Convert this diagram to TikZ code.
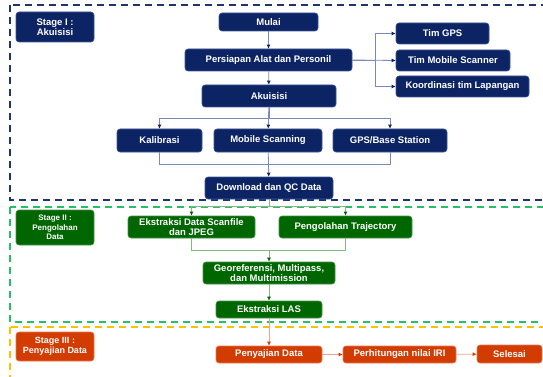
\documentclass[tikz,border=0pt]{standalone}
\usepackage{fontspec}
\setmainfont{Liberation Sans}
\usepackage{tikz}
\usetikzlibrary{arrows.meta,positioning}
\definecolor{stagenavy}{RGB}{12, 36, 100}
\definecolor{navyedge}{RGB}{60, 86, 150}
\definecolor{navyline}{RGB}{120, 138, 185}
\definecolor{navydash}{RGB}{30, 52, 110}
\definecolor{stagegreen}{RGB}{0, 102, 0}
\definecolor{greenedge}{RGB}{70, 150, 70}
\definecolor{greenline}{RGB}{130, 185, 130}
\definecolor{greendash}{RGB}{40, 190, 105}
\definecolor{stageorange}{RGB}{210, 60, 0}
\definecolor{orangeedge}{RGB}{235, 120, 80}
\definecolor{orangeline}{RGB}{240, 160, 140}
\definecolor{orangedash}{RGB}{255, 192, 0}

\begin{document}
\begin{tikzpicture}[x=1pt, y=-1pt,
  box/.style={rectangle, rounded corners=3pt, line width=0.6pt, text=white, font=\fontsize{9.5}{10.5}\selectfont\bfseries, align=center, inner sep=0pt},
  bluebox/.style={box, fill=stagenavy, draw=navyedge},
  greenbox/.style={box, fill=stagegreen, draw=greenedge},
  orangebox/.style={box, fill=stageorange, draw=orangeedge},
  blueflow/.style={draw=navyline, line width=0.8pt, -{Latex[length=4pt, width=4pt, color=stagenavy]}},
  blueline/.style={draw=navyline, line width=0.8pt},
  greenflow/.style={draw=greenline, line width=0.8pt, -{Latex[length=4pt, width=4pt, color=stagegreen]}},
  greenline/.style={draw=greenline, line width=0.8pt},
  orangeflow/.style={draw=orangeline, line width=0.8pt, -{Latex[length=4pt, width=4pt, color=stageorange]}},
  stagedash/.style={line width=2pt, dash pattern=on 7pt off 5pt}
]

\useasboundingbox[fill=white] (0,0) rectangle (543,377);

% Stage frames
\draw[stagedash, draw=navydash] (10,5) rectangle (570,200);
\draw[stagedash, draw=greendash] (10,207) rectangle (570,322);
\draw[stagedash, draw=orangedash] (10,327) rectangle (570,395);

% Stage I
\node[bluebox, minimum width=78pt, minimum height=30pt] (stage1) at (55,27) {Stage I :\\Akuisisi};
\node[bluebox, minimum width=99pt, minimum height=18pt] (mulai) at (268.5,22) {Mulai};
\node[bluebox, minimum width=167pt, minimum height=22pt] (persiapan) at (268.5,60) {Persiapan Alat dan Personil};
\node[bluebox, minimum width=134pt, minimum height=22pt] (akuisisi) at (269,96) {Akuisisi};
\node[bluebox, minimum width=93pt, minimum height=21pt] (timgps) at (442.5,33.5) {Tim GPS};
\node[bluebox, minimum width=114pt, minimum height=21pt] (timscanner) at (453,60.5) {Tim Mobile Scanner};
\node[bluebox, minimum width=133pt, minimum height=21pt] (koordinasi) at (462.5,86.5) {Koordinasi tim Lapangan};
\node[bluebox, minimum width=85pt, minimum height=23pt] (kalibrasi) at (159.5,140.5) {Kalibrasi};
\node[bluebox, minimum width=108pt, minimum height=23pt] (scanning) at (268,140.5) {Mobile Scanning};
\node[bluebox, minimum width=114pt, minimum height=23pt] (gpsbase) at (390,140.5) {GPS/Base Station};
\node[bluebox, minimum width=128pt, minimum height=22pt] (download) at (269,188) {Download dan QC Data};

% Stage II
\node[greenbox, minimum width=78pt, minimum height=35pt, font=\fontsize{8}{9.5}\selectfont\bfseries] (stage2) at (55,227.5) {Stage II :\\Pengolahan\\Data};
\node[greenbox, minimum width=127pt, minimum height=22pt] (ekstraksi) at (191.5,227) {Ekstraksi Data Scanfile\\dan JPEG};
\node[greenbox, minimum width=133pt, minimum height=22pt] (trajectory) at (345.5,227) {Pengolahan Trajectory};
\node[greenbox, minimum width=132pt, minimum height=22pt] (georef) at (269,273) {Georeferensi, Multipass,\\dan Multimission};
\node[greenbox, minimum width=106pt, minimum height=17pt] (las) at (269,309.5) {Ekstraksi LAS};

% Stage III
\node[orangebox, minimum width=78pt, minimum height=29pt, font=\fontsize{9}{10.5}\selectfont\bfseries] (stage3) at (55,346.5) {Stage III :\\Penyajian Data};
\node[orangebox, minimum width=106pt, minimum height=17pt] (penyajian) at (269,354.5) {Penyajian Data};
\node[orangebox, minimum width=113pt, minimum height=17pt] (iri) at (399.5,354.5) {Perhitungan nilai IRI};
\node[orangebox, minimum width=65pt, minimum height=18pt] (selesai) at (509.5,354) {Selesai};

% Connections
\draw[blueflow] (mulai) -- (persiapan);
\draw[blueflow] (persiapan) -- (akuisisi);
\draw[blueflow] (persiapan.east) -- ++(23,0) |- (timgps.west);
\draw[blueflow] (persiapan.east) -- (timscanner.west);
\draw[blueflow] (persiapan.east) -- ++(23,0) |- (koordinasi.west);
\draw[blueflow] (akuisisi.south) -- ++(0,11) -| (kalibrasi.north);
\draw[blueflow] (akuisisi.south) -- ++(0,11) -| (gpsbase.north);
\draw[blueflow] (akuisisi) -- (scanning);
\draw[blueline] (kalibrasi.south) -- ++(0,12) -| (gpsbase.south);
\draw[blueflow] (scanning) -- (download);

\draw[greenflow] (download.south) -- ++(0,7) -| (ekstraksi.north);
\draw[greenflow] (download.south) -- ++(0,7) -| (trajectory.north);
\draw[greenline] (ekstraksi.south) -- ++(0,12) -| (trajectory.south);
\coordinate (merge) at (269,250);
\draw[greenflow] (merge) -- (georef);
\draw[greenflow] (georef) -- (las);

\draw[orangeflow] (las) -- (penyajian);
\draw[orangeflow] (penyajian) -- (iri);
\draw[orangeflow] (iri) -- (selesai);

\end{tikzpicture}
\end{document}
